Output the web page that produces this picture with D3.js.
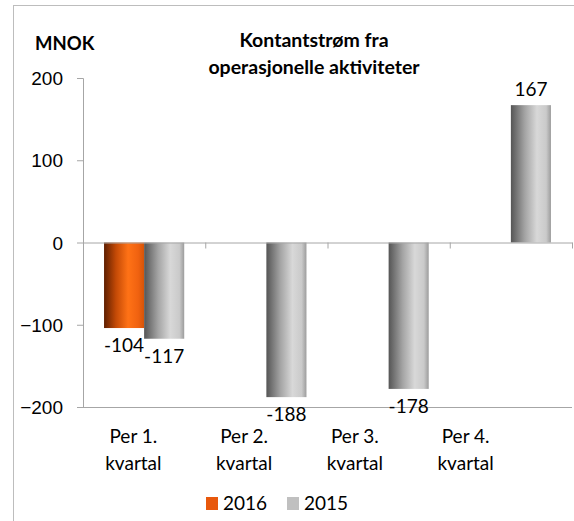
<!DOCTYPE html>
<html>
<head>
<meta charset="utf-8">
<script src="https://cdn.jsdelivr.net/npm/d3@7"></script>
<style>
  body { margin: 0; background: #fff; }
  svg { font-family: Lato, "Open Sans", sans-serif; }
</style>
</head>
<body>
<div id="main"></div>
<script>
const categories = [["Per 1.", "kvartal"], ["Per 2.", "kvartal"], ["Per 3.", "kvartal"], ["Per 4.", "kvartal"]];
const seriesNames = ["2016", "2015"];
const values2016 = [-104, null, null, null];
const values2015 = [-117, -188, -178, 167];
const yTicks = [-200, -100, 0, 100, 200];

const width = 574;
const height = 521;

const svg = d3.select("#main").append("svg")
  .attr("width", width)
  .attr("height", height);

// gradients for the cylinder look
const defs = svg.append("defs");
function addGradient(id, stops) {
  const g = defs.append("linearGradient").attr("id", id)
    .attr("x1", "0%").attr("x2", "100%").attr("y1", "0%").attr("y2", "0%");
  stops.forEach(([o, c]) => g.append("stop").attr("offset", o).attr("stop-color", c));
}
addGradient("grad2016", [["0%", "#5e1e00"], ["30%", "#c44a06"], ["60%", "#ff7216"], ["85%", "#f06210"], ["100%", "#d65408"]]);
addGradient("grad2015", [["0%", "#555555"], ["35%", "#a4a4a4"], ["65%", "#d8d8d8"], ["88%", "#cacaca"], ["100%", "#9c9c9c"]]);

// frame
svg.append("rect")
  .attr("x", 13.5).attr("y", 5.5)
  .attr("width", 620).attr("height", 600)
  .attr("fill", "none")
  .attr("stroke", "#bdbdbd");

const y = d3.scaleLinear().domain([-200, 200]).range([407, 78]);
const x = d3.scaleBand().domain(d3.range(categories.length)).range([83, 572]);
const xSub = d3.scaleBand().domain(seriesNames).range([0, x.bandwidth()]).paddingInner(0).paddingOuter(0.525);
// category labels sit slightly left of the groups in the original
const xLabel = d3.scaleBand().domain(d3.range(categories.length)).range([78, 521]);

const axisColor = "#a6a6a6";

// y axis
const yAxis = svg.append("g")
  .attr("transform", "translate(83,0)")
  .call(d3.axisLeft(y).tickValues(yTicks).tickSize(6).tickPadding(14));
yAxis.select(".domain").attr("stroke", axisColor);
yAxis.selectAll(".tick line").attr("stroke", axisColor);
yAxis.selectAll(".tick text")
  .attr("font-size", 19)
  .attr("fill", "#000")
  .attr("dy", "0.35em");

// bottom line at -200
svg.append("line")
  .attr("x1", 83).attr("x2", 572)
  .attr("y1", y(-200) + 0.5).attr("y2", y(-200) + 0.5)
  .attr("stroke", axisColor);

// bars
const rows = [];
categories.forEach((c, i) => {
  if (values2016[i] !== null) rows.push({ i, s: "2016", v: values2016[i] });
  if (values2015[i] !== null) rows.push({ i, s: "2015", v: values2015[i] });
});

svg.append("g").selectAll("rect")
  .data(rows)
  .join("rect")
  .attr("x", d => x(d.i) + xSub(d.s))
  .attr("width", xSub.bandwidth())
  .attr("y", d => y(Math.max(0, d.v)))
  .attr("height", d => Math.abs(y(d.v) - y(0)))
  .attr("fill", d => `url(#grad${d.s})`);

// zero axis with ticks
const xAxis = svg.append("g")
  .attr("transform", `translate(0,${y(0)})`)
  .call(d3.axisBottom(x).tickValues([]).tickSizeOuter(0));
xAxis.select(".domain").attr("stroke", axisColor);
svg.append("g").selectAll("line")
  .data(d3.range(categories.length))
  .join("line")
  .attr("x1", d => x(d) + x.bandwidth() + 0.5)
  .attr("x2", d => x(d) + x.bandwidth() + 0.5)
  .attr("y1", y(0))
  .attr("y2", y(0) + 6)
  .attr("stroke", axisColor);

// value labels
svg.append("g").selectAll("text")
  .data(rows)
  .join("text")
  .attr("x", d => x(d.i) + xSub(d.s) + xSub.bandwidth() / 2)
  .attr("y", d => d.v >= 0 ? y(d.v) - 9 : y(d.v) + 24)
  .attr("text-anchor", "middle")
  .attr("font-size", 19)
  .attr("fill", "#000")
  .text(d => d.v);

// category labels
const catG = svg.append("g").selectAll("text")
  .data(categories)
  .join("text")
  .attr("x", (d, i) => xLabel(i) + xLabel.bandwidth() / 2)
  .attr("y", 443)
  .attr("text-anchor", "middle")
  .attr("font-size", 19)
  .attr("fill", "#000");
catG.selectAll("tspan")
  .data(d => d)
  .join("tspan")
  .attr("x", function () { return this.parentNode.getAttribute("x"); })
  .attr("dy", (d, j) => j === 0 ? 0 : 27)
  .text(d => d);

// title and unit
svg.append("text")
  .attr("x", 35).attr("y", 50)
  .attr("font-size", 18.5)
  .attr("font-weight", "bold")
  .text("MNOK");

const title = svg.append("text")
  .attr("x", 314).attr("y", 47)
  .attr("text-anchor", "middle")
  .attr("font-size", 19.5)
  .attr("font-weight", "bold");
title.append("tspan").attr("x", 314).attr("dy", 0).text("Kontantstrøm fra");
title.append("tspan").attr("x", 314).attr("dy", 27).text("operasjonelle aktiviteter");

// legend
const legendColors = { "2016": "#e8580c", "2015": "#c0c0c0" };
const legend = svg.append("g").selectAll("g")
  .data(seriesNames)
  .join("g")
  .attr("transform", (d, i) => `translate(${206 + i * 81},497)`);
legend.append("rect")
  .attr("width", 12).attr("height", 13)
  .attr("fill", d => legendColors[d]);
legend.append("text")
  .attr("x", 17).attr("y", 13)
  .attr("font-size", 19)
  .text(d => d);
</script>
</body>
</html>
